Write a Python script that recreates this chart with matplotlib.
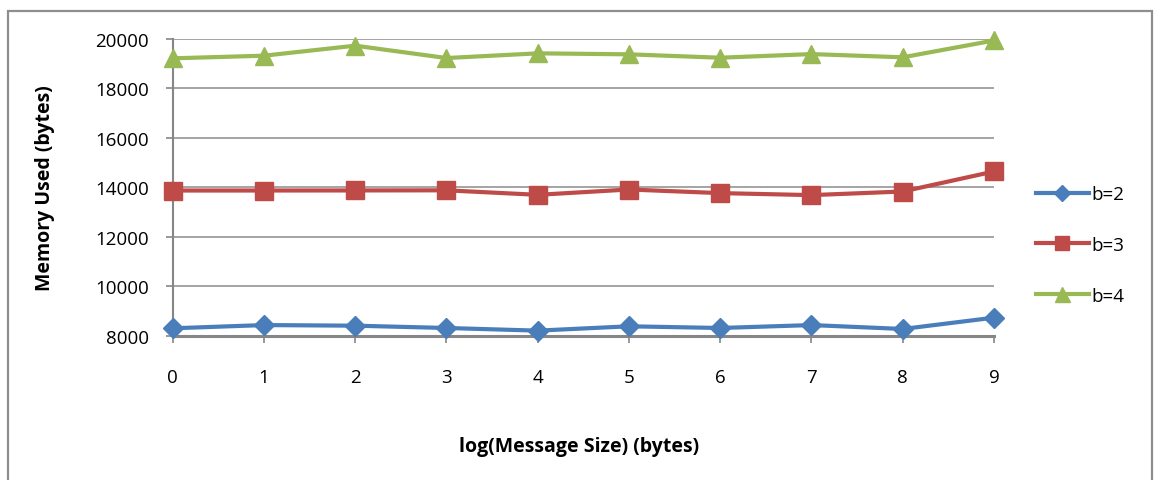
import matplotlib
matplotlib.use('Agg')
import matplotlib.pyplot as plt

plt.rcParams['font.family'] = ['Open Sans', 'DejaVu Sans']

# data
sizes = [0, 1, 2, 3, 4, 5, 6, 7, 8, 9]
b2 = [8300, 8430, 8405, 8312, 8205, 8380, 8312, 8430, 8272, 8730]
b3 = [13872, 13872, 13875, 13880, 13698, 13913, 13767, 13686, 13832, 14642]
b4 = [19218, 19325, 19730, 19230, 19420, 19380, 19243, 19390, 19260, 19940]
labels = ['b=2', 'b=3', 'b=4']

W, H = 1155, 481
fig = plt.figure(figsize=(W / 100, H / 100), dpi=100)
fig.patch.set_facecolor('white')

# outer chart border (Excel style)
fig.add_artist(plt.Rectangle((8 / W, -0.1), (1152 - 8) / W, 1 - 12 / H + 0.1,
                             transform=fig.transFigure, fill=False,
                             edgecolor='#8e8e8e', lw=1.6))

left, right = 172.7, 994.0
top, bottom = 40.0, 336.7
ax = fig.add_axes([left / W, 1 - bottom / H, (right - left) / W, (bottom - top) / H])

gray = '#868686'
ax.plot(sizes, b2, color='#4a7ebb', lw=3, marker='D', ms=10, label=labels[0], zorder=3, clip_on=False)
ax.plot(sizes, b3, color='#be4b48', lw=3, marker='s', ms=13, label=labels[1], zorder=3, clip_on=False)
ax.plot(sizes, b4, color='#98b954', lw=3, marker='^', ms=13.5, label=labels[2], zorder=3, clip_on=False)

ax.set_xlim(0, 9)
ax.set_ylim(8000, 20000)
ax.set_xticks(sizes)
ax.set_yticks(range(8000, 20001, 2000))
ax.grid(axis='y', color='#8c8c8c', lw=1.1)
ax.set_axisbelow(True)

for s in ['top', 'right']:
    ax.spines[s].set_visible(False)
ax.spines['left'].set_color(gray)
ax.spines['left'].set_linewidth(1.5)
ax.spines['bottom'].set_color(gray)
ax.spines['bottom'].set_linewidth(2.2)

fs = 13.5
ax.tick_params(axis='y', length=5, width=1.2, color=gray, pad=12, labelsize=fs)
ax.tick_params(axis='x', length=5, width=1.2, color=gray, pad=18, labelsize=fs)

ax.set_ylabel('Memory Used (bytes)', fontsize=14, fontweight='bold')
ax.yaxis.set_label_coords((55 - left) / (right - left), 0.5)
ax.set_xlabel('log(Message Size) (bytes)', fontsize=14, fontweight='bold')
ax.xaxis.set_label_coords(0.495, -(437 - bottom) / (bottom - top))

fig.legend(loc='center left', bbox_to_anchor=(1036 / W, 1 - 246 / H),
           frameon=False, fontsize=fs, handlelength=2.8, handletextpad=0.15,
           labelspacing=1.75, borderpad=0, borderaxespad=0, markerscale=0.8)

fig.savefig('out.png', dpi=100)
